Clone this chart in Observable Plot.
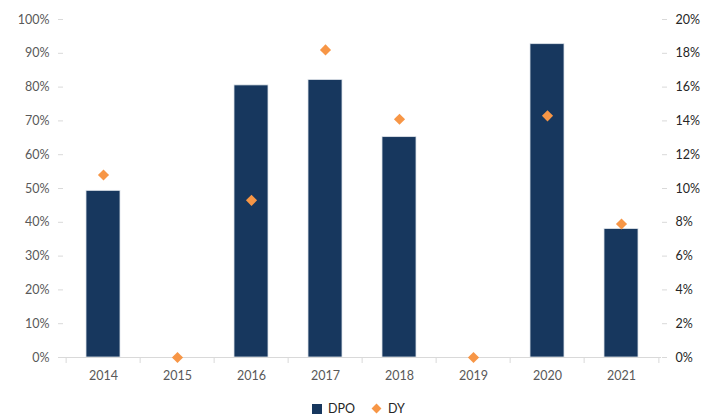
<!DOCTYPE html>
<html><head><meta charset="utf-8">
<script src="https://cdn.jsdelivr.net/npm/d3@7"></script>
<script src="https://cdn.jsdelivr.net/npm/@observablehq/plot@0.6"></script>
<style>
body{margin:0;background:#fff;font-family:Lato,"Open Sans",sans-serif;}
#wrap{position:relative;width:717px;height:418px;overflow:hidden;}
#legend{position:absolute;left:0;top:401px;width:717px;display:flex;justify-content:center;align-items:center;font-size:12.5px;color:#262626;gap:4px;}
#legend .sw{display:inline-block;width:10px;height:10px;background:#17375e;margin-right:2px;}
#legend .dm{display:inline-block;width:7px;height:7px;background:#f79646;transform:rotate(45deg);margin:0 4px 0 14px;}
</style></head>
<body><div id="wrap"><div id="chart"></div>
<div id="legend"><span class="sw"></span><span>DPO</span><span class="dm"></span><span>DY</span></div></div>
<script>
const years = ["2014","2015","2016","2017","2018","2019","2020","2021"];
const dpo = [0.493, 0, 0.805, 0.821, 0.652, 0, 0.927, 0.380];
const dy = [0.108, 0, 0.093, 0.182, 0.141, 0, 0.143, 0.079];
const leftTicks = [0,0.1,0.2,0.3,0.4,0.5,0.6,0.7,0.8,0.9,1.0];
const rightTicks = [0,0.02,0.04,0.06,0.08,0.10,0.12,0.14,0.16,0.18,0.20];
const ratio = 5; // right axis max 20% maps onto left max 100%

const data = years.map((y,i)=>({year:y, dpo:dpo[i], dy:dy[i]}));
const W = 717, ML = 63, MR = 56;
const step = (W-ML-MR)/years.length;
const grey = "#d9d9d9";

const chart = Plot.plot({
  width: W, height: 390,
  marginTop: 19, marginBottom: 33, marginLeft: ML, marginRight: MR,
  style: {fontFamily: "Lato, 'Open Sans', sans-serif", fontSize: "12.5px", background: "#fff"},
  x: {domain: years, padding: 0},
  y: {domain: [0, 1]},
  marks: [
    Plot.barY(data, {x: "year", y: "dpo", fill: "#17375e", stroke: "#dfe4ea", strokeWidth: 0.8, insetLeft: 20, insetRight: 20}),
    Plot.ruleY([0], {stroke: grey, strokeWidth: 1}),
    Plot.axisY({anchor: "left", ticks: leftTicks, tickFormat: d => Math.round(d*100)+"%", tickSize: 5, tickPadding: 9, stroke: grey, color: "#595959", line: true, label: null}),
    Plot.axisY({anchor: "right", ticks: rightTicks.map(d => d*ratio), tickFormat: d => Math.round(d/ratio*100)+"%", tickSize: 5, tickPadding: 9, stroke: grey, color: "#262626", line: true, label: null}),
    Plot.axisX({ticks: years, tickSize: 0, tickPadding: 14, color: "#595959", label: null}),
    Plot.axisX({ticks: years, tickSize: 6, text: null, dx: -step/2, stroke: grey, label: null}),
    Plot.axisX({ticks: [years[years.length-1]], tickSize: 6, text: null, dx: step/2, stroke: grey, label: null}),
    Plot.dot(data, {x: "year", y: d => d.dy*ratio, symbol: "diamond2", r: 5, fill: "#f79646", stroke: "none"})
  ]
});
document.getElementById("chart").appendChild(chart);
</script></body></html>
